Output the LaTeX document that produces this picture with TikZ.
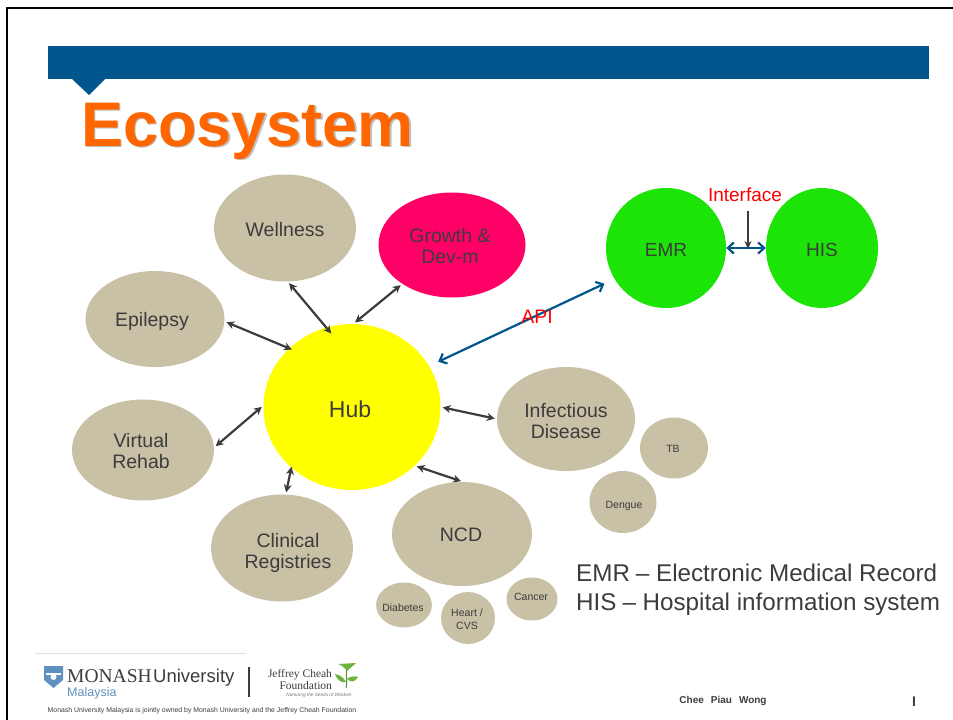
\documentclass[tikz,border=0pt]{standalone}
\usepackage{fontspec}
\setmainfont{Liberation Sans}
\newfontfamily\serifont{Liberation Serif}
\usetikzlibrary{shapes.geometric,arrows.meta}
\definecolor{barblue}{HTML}{00558C}
\definecolor{titleorange}{HTML}{FF6600}
\definecolor{khaki}{HTML}{C8C1A6}
\definecolor{ink}{HTML}{3C3C3C}
\definecolor{emrgreen}{HTML}{1CE406}
\definecolor{hotpink}{HTML}{FF0066}
\definecolor{hubyellow}{HTML}{FFFF00}
\definecolor{leafgreen}{HTML}{6DB33F}
\definecolor{shieldblue}{HTML}{5F90BF}
% moves a label inside its bubble without changing the bubble
\newcommand{\lbl}[3]{\raisebox{#2}[\height][\depth]{\hspace{#1}\begin{tabular}{@{}c@{}}#3\end{tabular}}}
\tikzset{
  bubble/.style={ellipse,fill=khaki,inner sep=0pt,text=ink,font=\fontsize{19.5}{21}\selectfont},
  small/.style={bubble,font=\fontsize{10.5}{13}\selectfont},
  link/.style={{Stealth[length=8pt,width=8pt]}-{Stealth[length=8pt,width=8pt]},ink,line width=2.2pt,shorten <=2pt,shorten >=2pt},
  bluelink/.style={{Straight Barb[length=6pt,width=11pt]}-{Straight Barb[length=6pt,width=11pt]},barblue,line width=2.2pt},
  redlabel/.style={text=red,font=\fontsize{19}{21}\selectfont,inner sep=0pt},
  legend/.style={text=ink,font=\fontsize{24.2}{29}\selectfont,anchor=base west,inner sep=0pt}
}
\begin{document}
\begin{tikzpicture}[x=1pt,y=-1pt]
	\useasboundingbox (0,0) rectangle (953,720);
	% frame and title
	\draw[black,line width=2.5pt] (7,720) -- (7,8) -- (953,8);
	\fill[barblue] (48,46) rectangle (929,79);
	\fill[barblue] (72,79) -- (105,79) -- (89,95) -- cycle;
	\node[text=black!25,font=\fontsize{63}{63}\bfseries\selectfont,anchor=base west,inner sep=0pt] (titleshadow) at (82.5,147.5) {Ecosystem};
	\node[text=titleorange,font=\fontsize{63}{63}\bfseries\selectfont,anchor=base west,inner sep=0pt] (title) at (81,146) {Ecosystem};
	% bubbles
	\node[bubble,minimum width=177pt,minimum height=166pt,fill=hubyellow,text=ink,font=\fontsize{23}{25}\selectfont] (hub) at (352,407) {\lbl{-4pt}{-5pt}{Hub}};
	\node[bubble,minimum width=142pt,minimum height=107pt] (wellness) at (285,228) {\lbl{0pt}{-4pt}{Wellness}};
	\node[bubble,minimum width=147pt,minimum height=105pt,fill=hotpink] (growth) at (452,245) {\lbl{-4pt}{-4pt}{Growth \&\\Dev-m}};
	\node[bubble,minimum width=139pt,minimum height=96pt] (epilepsy) at (155,319) {\lbl{-6pt}{-3pt}{Epilepsy}};
	\node[bubble,minimum width=142pt,minimum height=101pt] (rehab) at (143,450) {\lbl{-4pt}{-4pt}{Virtual\\Rehab}};
	\node[bubble,minimum width=142pt,minimum height=107pt] (registries) at (282,548) {\lbl{12pt}{-6pt}{Clinical\\Registries}};
	\node[bubble,minimum width=140pt,minimum height=104pt] (ncd) at (462,534) {\lbl{-2pt}{-3pt}{NCD}};
	\node[bubble,minimum width=138pt,minimum height=104pt] (infectious) at (566,419) {\lbl{0pt}{-5pt}{Infectious\\Disease}};
	\node[small,minimum width=68pt,minimum height=61pt] (tb) at (674,448) {\lbl{-2pt}{-2pt}{TB}};
	\node[small,minimum width=67pt,minimum height=62pt] (dengue) at (623,502) {\lbl{2pt}{-4pt}{Dengue}};
	\node[small,minimum width=52pt,minimum height=45pt] (diabetes) at (404,605) {\lbl{-2pt}{-4pt}{Diabetes}};
	\node[small,minimum width=54pt,minimum height=52pt] (heart) at (468,618) {\lbl{-2pt}{-2pt}{Heart /\\CVS}};
	\node[small,minimum width=51pt,minimum height=43pt] (cancer) at (532,599) {\lbl{-2pt}{1pt}{Cancer}};
	\node[bubble,minimum width=120pt,minimum height=120pt,fill=emrgreen,font=\fontsize{19}{21}\selectfont] (emr) at (666,248) {\lbl{0pt}{-4pt}{EMR}};
	\node[bubble,minimum width=112pt,minimum height=120pt,fill=emrgreen,font=\fontsize{19}{21}\selectfont] (his) at (822,248) {\lbl{0pt}{-4pt}{HIS}};
	% links to hub
	\draw[link,shorten >=-8pt] (wellness.-87) -- (hub.108);
	\draw[link] (growth.218) -- (hub.89);
	\draw[link,shorten >=-3pt] (epilepsy.-2) -- (hub.137);
	\draw[link] (rehab.2) -- (hub.179);
	\draw[link,shorten >=-1pt] (registries.86) -- (hub.225);
	\draw[link] (ncd.89) -- (hub.-43);
	\draw[link] (infectious.180) -- (hub.0);
	% api and interface
	\draw[bluelink,shorten <=10pt,shorten >=11pt] (hub.28) -- (emr.211);
	\draw[bluelink] (emr.east) -- (his.west);
	\node[redlabel,font=\fontsize{19.5}{21}\selectfont] (api) at (537,317) {API};
	\node[redlabel] (interface) at (745,195) {Interface};
	\coordinate (ifstart) at (748,211);
	\coordinate (ifend) at (748,249);
	\draw[-{Stealth[length=8pt,width=7pt]},ink,line width=2pt] (ifstart) -- (ifend);
	% legend
	\node[legend] (emrnote) at (576,581) {EMR\hspace{6pt}– Electronic Medical Record};
	\node[legend] (hisnote) at (576,610) {HIS\hspace{6pt}– Hospital information system};
	% footer
	\draw[black!12,line width=.7pt] (35,653) -- (246,653);
	\fill[shieldblue] (44,666) -- (63,666) -- (63,680) -- (53.5,688) -- (44,680) -- cycle;
	\fill[white] (46,673) -- (61,673) -- (61,674.5) -- (46,674.5) -- cycle;
	\fill[white] (53.5,677) circle (3pt);
	\node[font=\serifont\fontsize{19.5}{21}\selectfont,text=ink,anchor=base west,inner sep=0pt] (monash) at (67,682) {MONASH};
	\node[font=\fontsize{18.5}{20}\selectfont,text=ink,anchor=base west,inner sep=0pt] (university) at (153,682) {University};
	\node[font=\fontsize{12.5}{13}\selectfont,text=shieldblue,anchor=base west,inner sep=0pt] (malaysia) at (67,696) {Malaysia};
	\draw[ink,line width=1.5pt] (249,667) -- (249,697);
	\node[font=\serifont\fontsize{11.5}{11.5}\selectfont,text=ink,align=right,inner sep=0pt] (cheah) at (300,679.5) {Jeffrey Cheah\\Foundation};
	\node[font=\fontsize{4.7}{5}\itshape\selectfont,text=black!55,inner sep=0pt] (seeds) at (319,695) {Nurturing the Seeds of Wisdom};
	\draw[leafgreen!80!black,line width=1pt] (346,688) .. controls (348,680) and (345,675) .. (347,668);
	\fill[leafgreen] (346,682) .. controls (342,675) and (338,675) .. (335,674) .. controls (337,680) and (341,683) .. (346,682) -- cycle;
	\fill[leafgreen] (347,679) .. controls (350,676) and (354,676) .. (358,677) .. controls (355,682) and (351,683) .. (347,679) -- cycle;
	\fill[leafgreen] (347,671) .. controls (344,667) and (341,665) .. (338,664) -- (356,663) .. controls (353,666) and (350,668) .. (347,671) -- cycle;
	\node[font=\fontsize{6.9}{7}\selectfont,text=ink,inner sep=0pt] (owners) at (202,711) {Monash University Malaysia is jointly owned by Monash University and the Jeffrey Cheah Foundation};
	\node[font=\fontsize{10}{10}\bfseries\selectfont,text=ink,inner sep=0pt] (speaker) at (723,701) {Chee\hspace{7pt}Piau\hspace{7pt}Wong};
	\node[font=\fontsize{14}{14}\bfseries\selectfont,text=ink,inner sep=0pt] (pagenum) at (914,702) {I};
\end{tikzpicture}
\end{document}
